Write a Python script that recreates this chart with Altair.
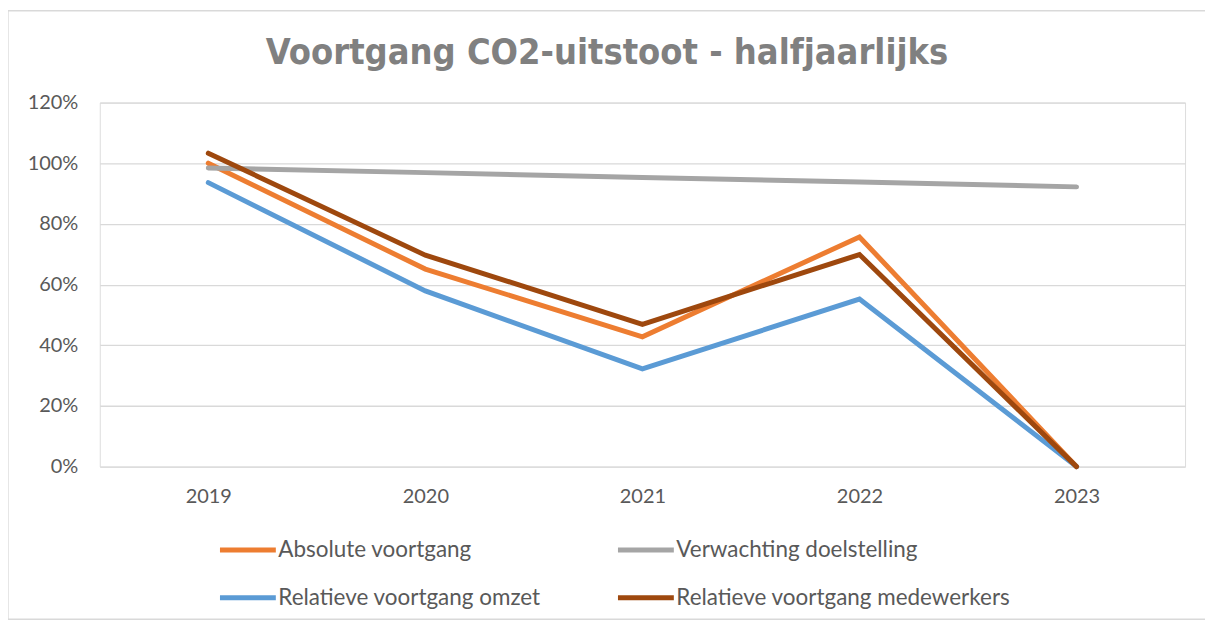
import altair as alt
import pandas as pd

years = ["2019", "2020", "2021", "2022", "2023"]
series_names = [
    "Absolute voortgang",
    "Verwachting doelstelling",
    "Relatieve voortgang omzet",
    "Relatieve voortgang medewerkers",
]
absolute = [1.000, 0.651, 0.428, 0.757, 0.0]
verwachting = [0.984, 0.969, 0.953, 0.938, 0.922]
relatief_omzet = [0.936, 0.579, 0.322, 0.552, 0.0]
relatief_medewerkers = [1.033, 0.697, 0.469, 0.699, 0.0]
colors = ["#ED7D31", "#A5A5A5", "#5B9BD5", "#9E480E"]
y_ticks = [0, 0.2, 0.4, 0.6, 0.8, 1.0, 1.2]

rows = []
for name, vals in zip(series_names, [absolute, verwachting, relatief_omzet, relatief_medewerkers]):
    for yr, v in zip(years, vals):
        rows.append({"jaar": yr, "reeks": name, "waarde": v})
df = pd.DataFrame(rows)

W, H = 1088, 365
PL, PT = 92, 94

lines = alt.Chart(df).mark_line(strokeWidth=5, strokeCap="round", strokeJoin="miter").encode(
    x=alt.X("jaar:N", sort=years,
            scale=alt.Scale(type="point", padding=0.5),
            axis=alt.Axis(title=None, labelAngle=0, labelPadding=20, ticks=False,
                          domain=False, grid=False, labelFontSize=20,
                          labelColor="#595959", labelFont="Lato")),
    y=alt.Y("waarde:Q", scale=alt.Scale(domain=[0, 1.2], nice=False),
            axis=alt.Axis(title=None, format=".0%", values=y_ticks, ticks=False,
                          domain=False, gridColor="#D9D9D9", gridWidth=1.3,
                          labelPadding=22, labelFontSize=20, labelColor="#595959",
                          labelFont="Lato")),
    color=alt.Color("reeks:N", sort=series_names,
                    scale=alt.Scale(domain=series_names, range=colors),
                    legend=alt.Legend(title=None, orient="none", legendX=118, legendY=418,
                                      columns=2, direction="horizontal",
                                      symbolType="stroke", symbolSize=3136,
                                      symbolStrokeWidth=5, symbolOffset=0,
                                      labelFontSize=22.5, labelColor="#595959",
                                      labelFont="Lato", labelOffset=0,
                                      columnPadding=66, rowPadding=6,
                                      labelLimit=400)),
    order=alt.Order("jaar:N"),
)

frame = alt.Chart(pd.DataFrame({"a": [0]})).mark_rect(
    fill=None, stroke="#D9D9D9", strokeWidth=1.3
).encode(
    x=alt.value(-PL), x2=alt.value(1201 - PL),
    y=alt.value(2 - PT), y2=alt.value(612 - PT),
)

chart = alt.layer(frame, lines).properties(
    width=W, height=H,
    title=alt.Title("Voortgang CO2-uitstoot - halfjaarlijks", fontSize=36,
                    font="DejaVu Sans Condensed", fontWeight="bold", color="#808080",
                    anchor="middle", frame="bounds", offset=-62),
    autosize=alt.AutoSizeParams(type="none"),
    padding={"left": PL, "top": PT, "right": 20, "bottom": 155},
).configure_view(stroke=None).configure(background="white")

chart.save("out.html", embed_options={"renderer": "svg", "actions": False})
